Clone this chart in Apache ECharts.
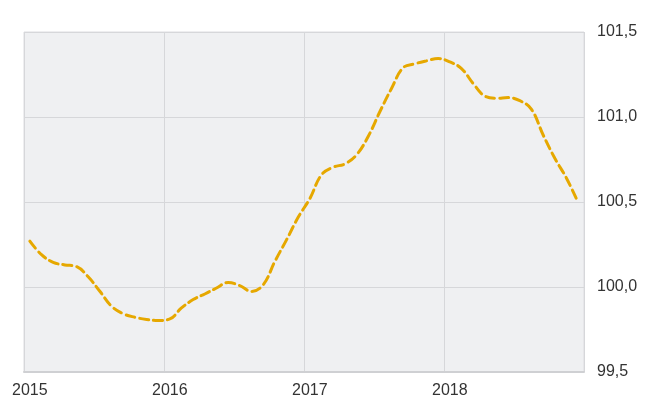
<!DOCTYPE html>
<html>
<head>
<meta charset="utf-8">
<script src="https://cdn.jsdelivr.net/npm/echarts@6/dist/echarts.min.js"></script>
<style>
html,body{margin:0;padding:0;background:#fff;}
#chart{width:648px;height:400px;}
</style>
</head>
<body>
<div id="chart"></div>
<script>
var months = [
  '2015-01','2015-02','2015-03','2015-04','2015-05','2015-06','2015-07','2015-08','2015-09','2015-10','2015-11','2015-12',
  '2016-01','2016-02','2016-03','2016-04','2016-05','2016-06','2016-07','2016-08','2016-09','2016-10','2016-11','2016-12',
  '2017-01','2017-02','2017-03','2017-04','2017-05','2017-06','2017-07','2017-08','2017-09','2017-10','2017-11','2017-12',
  '2018-01','2018-02','2018-03','2018-04','2018-05','2018-06','2018-07','2018-08','2018-09','2018-10','2018-11','2018-12'
];
var values = [
  100.27, 100.19, 100.145, 100.13, 100.12, 100.06, 99.975, 99.887, 99.843, 99.822, 99.809, 99.803,
  99.812, 99.877, 99.926, 99.959, 99.994, 100.027, 100.008, 99.974, 100.013, 100.15, 100.277, 100.41,
  100.52, 100.66, 100.705, 100.724, 100.777, 100.885, 101.031, 101.168, 101.29, 101.313, 101.33, 101.344,
  101.324, 101.285, 101.197, 101.123, 101.11, 101.114, 101.096, 101.045, 100.894, 100.757, 100.64, 100.496
];
var yTicks = [99.5, 100.0, 100.5, 101.0, 101.5];

var chart = echarts.init(document.getElementById('chart'), null, {renderer: 'canvas'});
chart.setOption({
  animation: false,
  backgroundColor: '#ffffff',
  grid: {
    left: 24, right: 64, top: 32, bottom: 28,
    show: true,
    backgroundColor: '#eff0f2',
    borderColor: '#dcdde0',
    borderWidth: 1
  },
  xAxis: {
    type: 'category',
    data: months,
    boundaryGap: true,
    axisLine: {show: true, lineStyle: {color: '#cfd0d3', width: 2}},
    axisTick: {show: false, interval: 11},
    axisLabel: {
      interval: 11,
      margin: 11,
      color: '#333333',
      fontFamily: 'Liberation Sans, Arial, sans-serif',
      fontSize: 16,
      formatter: function (v) { return v.slice(0, 4); }
    },
    splitLine: {show: true, interval: 11, lineStyle: {color: '#d6d7da', width: 1}}
  },
  yAxis: {
    type: 'value',
    position: 'right',
    min: yTicks[0],
    max: yTicks[yTicks.length - 1],
    interval: 0.5,
    axisLine: {show: false},
    axisTick: {show: false},
    axisLabel: {
      margin: 13,
      color: '#333333',
      fontFamily: 'Liberation Sans, Arial, sans-serif',
      fontSize: 16,
      formatter: function (v) { return v.toFixed(1).replace('.', ','); }
    },
    splitLine: {show: true, lineStyle: {color: '#d6d7da', width: 1}}
  },
  series: [{
    type: 'line',
    data: values,
    smooth: 0.4,
    symbol: 'none',
    lineStyle: {color: '#e6a800', width: 3, type: [9, 5], cap: 'round'}
  }]
});
</script>
</body>
</html>
